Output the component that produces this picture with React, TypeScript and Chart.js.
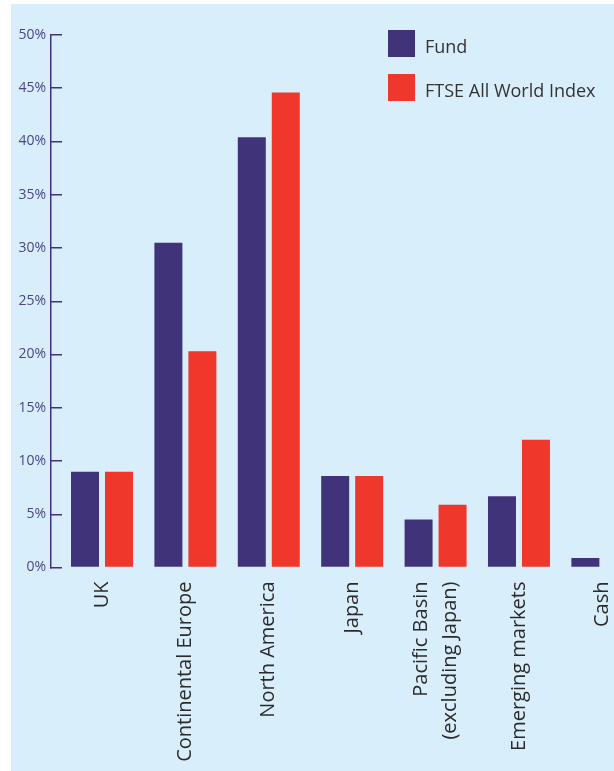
import React, { useEffect, useRef } from "react";
import { Chart, registerables } from "chart.js";

Chart.register(...registerables);

const categories: (string | string[])[] = [
  "UK",
  "Continental Europe",
  "North America",
  "Japan",
  ["Pacific Basin", "(excluding Japan)"],
  "Emerging markets",
  "Cash",
];
const fundValues: (number | null)[] = [9.0, 30.5, 40.4, 8.6, 4.5, 6.7, 0.9];
const ftseValues: (number | null)[] = [9.0, 20.3, 44.6, 8.6, 5.9, 12.0, null];
const seriesNames = ["Fund", "FTSE All World Index"];
const yMin = 0;
const yMax = 50;
const yStep = 5;

const FUND_COLOR = "#40337a";
const FTSE_COLOR = "#ef372b";
const BG = "#d9eefb";
const FONT = "'Open Sans', 'Noto Sans', sans-serif";
const LABEL_SIZE = 20;
const LABEL_LINE_HEIGHT = 1.45;
const X_MIN = -0.6115;
const X_MAX = 6.823;

export default function App() {
  const canvasRef = useRef<HTMLCanvasElement | null>(null);

  useEffect(() => {
    const canvas = canvasRef.current;
    if (!canvas) return;
    const toPoints = (vals: (number | null)[]) =>
      vals.map((v, i) => ({ x: i, y: v }));
    const chart = new Chart(canvas, {
      type: "bar",
      data: {
        datasets: [
          {
            label: seriesNames[0],
            data: toPoints(fundValues) as any,
            backgroundColor: FUND_COLOR,
            borderWidth: 0,
            xAxisID: "x",
          },
          {
            label: seriesNames[1],
            data: toPoints(ftseValues) as any,
            backgroundColor: FTSE_COLOR,
            borderWidth: 0,
            xAxisID: "x",
          },
        ],
      },
      options: {
        animation: false,
        responsive: false,
        maintainAspectRatio: false,
        devicePixelRatio: 1,
        layout: { padding: { left: 0, right: 40, top: 31, bottom: 0 } },
        plugins: { legend: { display: false }, tooltip: { enabled: false } },
        datasets: { bar: { barPercentage: 0.824, categoryPercentage: 0.815 } },
        scales: {
          x: {
            type: "linear",
            display: false,
            offset: false,
            min: X_MIN,
            max: X_MAX,
            afterBuildTicks: (s: any) => {
              s.ticks = categories.map((_c, i) => ({ value: i }));
            },
          },
          xl: {
            type: "linear",
            position: "bottom",
            offset: false,
            min: X_MIN,
            max: X_MAX,
            grid: { display: false, offset: false },
            border: { display: false },
            afterBuildTicks: (s: any) => {
              // centre the block of lines of a multi-line rotated label on its category
              const unitPx = (s.right - s.left) / (s.max - s.min) || 83.4;
              s.ticks = categories.map((c, i) => {
                const lines = Array.isArray(c) ? c.length : 1;
                const shift = ((lines - 1) * LABEL_SIZE * LABEL_LINE_HEIGHT) / 2 / unitPx;
                return { value: i - shift };
              });
            },
            ticks: {
              autoSkip: false,
              maxRotation: 90,
              minRotation: 90,
              padding: 6,
              color: "#2b2b2b",
              font: { family: FONT, size: LABEL_SIZE, lineHeight: LABEL_LINE_HEIGHT },
              callback: (_v: any, index: number) => {
                const c = categories[index];
                return c === undefined ? "" : (c as any);
              },
            },
            afterFit: (s: any) => {
              s.height = 203.5;
            },
          },
          y: {
            min: yMin,
            max: yMax,
            ticks: {
              stepSize: yStep,
              padding: 16,
              color: "#4b4585",
              font: { family: FONT, size: 14 },
              callback: (v: any) => v + "%",
            },
            grid: {
              drawOnChartArea: false,
              drawTicks: true,
              tickLength: -11,
              color: FUND_COLOR,
              lineWidth: 1.5,
            },
            border: { display: true, color: FUND_COLOR, width: 1.5 },
            afterFit: (s: any) => {
              s.width = 40;
            },
          },
        },
      } as any,
    });
    return () => chart.destroy();
  }, []);

  const legendItem = (top: number, color: string, text: string) => (
    <div style={{ position: "absolute", left: 377, top, height: 27 }}>
      <div style={{ position: "absolute", left: 0, top: 0, width: 27, height: 27, background: color }} />
      <span
        style={{
          position: "absolute",
          left: 37,
          top: 3,
          fontFamily: FONT,
          fontSize: 18,
          color: "#333",
          whiteSpace: "nowrap",
          lineHeight: "27px",
        }}
      >
        {text}
      </span>
    </div>
  );

  return (
    <div
      style={{
        position: "absolute",
        left: 11,
        top: 4,
        width: 603,
        height: 767,
        overflow: "hidden",
        background: BG,
      }}
    >
      <canvas
        ref={canvasRef}
        width={700}
        height={767}
        style={{ position: "absolute", left: 0, top: 0, width: 700, height: 767 }}
      />
      {legendItem(26, FUND_COLOR, seriesNames[0])}
      {legendItem(70, FTSE_COLOR, seriesNames[1])}
    </div>
  );
}
